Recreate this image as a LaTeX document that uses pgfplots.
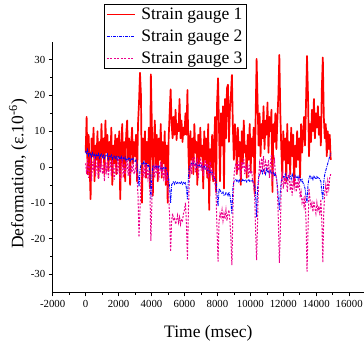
\documentclass[border=0pt]{standalone}
\usepackage{fontspec}
\setmainfont{Liberation Serif}
\usepackage{pgfplots}
\usepackage{pgfplotstable}
\pgfplotsset{compat=1.18}
\pgfplotstableread{
t r b m
0 4 4.5 1
60 14 3.5 -2
120 -2 4.8 2.5
180 9 3.2 -3
240 1 4 0.5
300 -9 3.6 2
360 8 2.8 -4
420 3 3.9 1.5
480 11 3.1 -1
540 -4 3.5 3
600 6 2.6 -2.5
660 2 3.4 0
720 10 2.9 2
780 -3 3.7 -3.5
840 7 2.5 1
900 0 3.2 -1.5
960 12 3.8 2.5
1020 3 2.7 -2
1080 8 3.3 0.5
1140 -2 2.4 -4
1200 13 3.1 1.5
1260 4 2.9 -1
1320 9 3.6 2
1380 -1 2.2 -3
1440 7 3 0
1500 2 2.7 1.5
1560 11 3.3 -2.5
1620 -5 2.1 2
1680 6 2.8 -1
1740 1 3.2 -3.5
1800 9 2.4 1
1860 -2 2.9 0
1920 8 2 -2
1980 3 3.1 2.5
2040 10 2.5 -1.5
2100 -9 2.2 -4
2160 5 2.9 0.5
2220 12 1.8 2
2280 0 2.6 -3
2340 7 2.3 1
2400 -4 2.8 -2
2460 9 1.7 0
2520 13 2.4 2
2580 2 2.1 -2.5
2640 8 2.7 1
2700 -5 1.6 -3
2760 6 2.3 0.5
2820 11 1.9 -1.5
2880 1 2.4 1.5
2940 7 1.5 -2
3000 3 1.5 -1
3060 9 2 0.5
3120 -4 0.8 -3
3180 12 -2 -8
3240 18 -5.5 -19.6
3300 26.3 -1 -12
3360 20 0.5 -4
3420 -10 1 -2
3480 8 0.8 0
3540 2 1.5 -3
3600 10 0.5 1
3660 -3 1.2 -2
3720 7 0.8 0.5
3780 1 0.2 -3
3840 11 0.6 -1
3900 -6 -1 -6
3960 25.9 -9 -20.6
4020 12 -3 -10
4080 -8 0.5 -2
4140 6 0.2 0
4200 13 -0.5 -3
4260 0 0.3 1
4320 9 -0.2 -2
4380 -4 0.5 0.5
4440 8 -0.3 -3.5
4500 2 0.2 -1
4560 12 -0.5 1.5
4620 -3 0 -2.5
4680 7 -0.8 0
4740 1 0.1 -3
4800 10 -0.5 -1
4860 -5 -0.2 -4
4920 6 -1 -1
4980 -10 -2 -5
5040 8 -3 -8
5100 15 -6 -14
5160 21.7 -10 -23.6
5220 12 -5 -15
5280 8 -4.5 -13
5340 14 -4 -15
5400 9 -4.8 -14
5460 16 -4.2 -16
5520 7.5 -4.6 -15
5580 12 -4.3 -13.5
5640 10 -4.7 -15.5
5700 19 -4.4 -14
5760 8 -4.6 -16
5820 13 -4.2 -14.5
5880 7 -4.8 -15
5940 11 -4.3 -13
6000 9 -4.6 -12
6060 15 -4.4 -10
6120 9 -6 -16
6180 21.5 -9 -26
6240 4 -3 -12
6300 -3 0 -3
6360 10 0.5 1
6420 2 1 -2
6480 8 0.2 2.5
6540 -2 1.2 0
6600 12 0.4 3
6660 4 0.8 -1.5
6720 7 0 1
6780 -5 1 2
6840 9 0.3 -3
6900 1 0.6 0.5
6960 11 -0.2 2.5
7020 3 0.5 -1
7080 6 0 1.5
7140 -6 -0.5 -2.5
7200 10 0.3 0
7260 2 -0.8 2
7320 8 -0.2 -1
7380 -3 -1 1
7440 12 -0.5 -3
7500 -12 -1.5 0
7560 5 -1 1.5
7620 0 -2 -2
7680 9 -1.5 -0.5
7740 -4 -2.5 -3
7800 6 -3 -2
7860 14 -3.5 -5
7920 -7 -4 -8
7980 18 -8 -18
8040 24.8 -11 -26.4
8100 10 -6 -15
8160 -4 -6.5 -13
8220 15 -7 -14
8280 6 -7.5 -12
8340 17 -7 -15
8400 -6 -8 -13
8460 19 -7.8 -14.5
8520 8 -7.2 -12
8580 22 -7.5 -15
8640 23 -8 -13
8700 7 -7 -12
8760 16 -8 -15
8820 20 -10 -20
8880 25.7 -13 -27.4
8940 11 -6 -12
9000 2 -4 -3
9060 12 -3.8 0
9120 8 -3.5 1
9180 -2 -4 -2
9240 11 -3.7 2
9300 3 -4.2 -1
9360 7 -3.6 0.5
9420 -5 -3.9 -3
9480 10 -4.1 1.5
9540 1 -3.5 -0.5
9600 13 -4 2.5
9660 4 -3.8 -2
9720 6 -3.6 0
9780 -3 -4.2 -1
9840 9 -3.9 1
9900 2 -3.4 -3
9960 12 -4 0.5
10020 -1 -3.7 -2
10080 8 -4.1 -1
10140 3 -3.8 -4
10200 11 -4.5 -5
10260 -7.5 -5 -8
10320 14 -8 -18
10380 30.2 -14 -26
10440 18 -6 -15
10500 6 -3 -3
10560 15 -2 1
10620 3 -1.5 -1
10680 12 -1 2.5
10740 8 -1.8 0
10800 17 -0.8 3
10860 5 -1.2 -2
10920 13 -2 1.5
10980 9 -0.5 0.5
11040 18 -1.5 -1
11100 4 -1 2
11160 14 -2.2 -3
11220 10 -0.8 1
11280 16 -1.6 3.5
11340 -7 -2 -4
11400 12 -1.2 0
11460 7 -2.5 2
11520 15 -1.8 -1.5
11580 5 -3 -3
11640 13 -5 -6
11700 20 -9 -15
11760 31.3 -12 -26.8
11820 15 -7 -18
11880 5 -4 -4
11940 -3 -3 -2
12000 10 -2.5 -6
12060 2 -3.2 -3
12120 8 -2 -5
12180 -4 -2.8 -1.5
12240 12 -3.5 -7
12300 1 -2.2 -3.5
12360 7 -3 -2
12420 -2 -2.6 -6.5
12480 11 -3.4 -4
12540 3 -2 -8
12600 9 -2.9 -3
12660 -5 -3.3 -5.5
12720 6 -2.4 -2.5
12780 0 -3.1 -7
12840 10 -2.7 -4
12900 2 -3.6 -6
12960 8 -2.5 -3
13020 -3 -3.2 -8.5
13080 12 -4 -7
13140 4 -3.5 -10
13200 9 -4.5 -9
13260 14 -5 -11
13320 6 -6 -8
13380 18 -8 -15
13440 31 -10 -29.2
13500 20 -5 -18
13560 3 -3 -6
13620 12 -2.5 -9
13680 7 -3.2 -11
13740 16 -2.8 -10
13800 10 -3.5 -12.5
13860 19 -2.6 -9.5
13920 8 -3 -11.5
13980 15 -3.4 -13
14040 11 -2.7 -10
14100 17 -3.1 -12
14160 9 -2.9 -11
14220 14 -3.5 -13.5
14280 6 -4 -9
14340 22 -7 -15
14400 30.6 -9 -26.7
14460 14 -4 -12
14520 8 -2 -7
14580 12 -1 -5
14640 3 0 -8
14700 10 1 -4
14760 5 2 -6
14820 9 3 -3
14880 2 3.8 -2
}\gauges
\begin{document}
\begin{tikzpicture}
\path[use as bounding box] (-52.7pt,-52.7pt) rectangle (311.3pt,292.3pt);
\begin{axis}[
  at={(0,0)}, anchor=south west,
  scale only axis, width=311.3pt, height=250.6pt,
  xmin=-2000, xmax=16900, ymin=-35, ymax=35,
  axis x line*=bottom, axis y line*=left,
  xtick={-2000,0,2000,4000,6000,8000,10000,12000,14000,16000},
  ytick={-30,-20,-10,0,10,20,30},
  minor x tick num=1, minor y tick num=1,
  tick align=outside, major tick length=4pt, minor tick length=2.5pt,
  tick style={black, line width=0.6pt},
  axis line style={black, line width=0.8pt},
  ticklabel style={font=\fontsize{10.8}{13}\selectfont},
  /pgf/number format/assume math mode=true,
  /pgf/number format/1000 sep={},
  scaled x ticks=false,
  xlabel={Time (msec)},
  ylabel={Deformation, (ε.10\textsuperscript{-6})},
  xlabel style={font=\fontsize{17.5}{20}\selectfont, at={(axis description cs:0.5,0)}, anchor=base, yshift=-45.4pt},
  ylabel style={font=\fontsize{17.5}{20}\selectfont, at={(axis description cs:0,0.472)}, anchor=base, yshift=29.4pt},
  legend cell align=left,
  legend image code/.code={\draw[#1, line width=0.9pt] (2pt,0pt) -- (30pt,0pt);},
  legend style={at={(axis description cs:0.1648,1.1505)}, anchor=north west,
    line width=0.8pt, font=\fontsize{17.5}{20}\selectfont,
    inner xsep=2pt, inner ysep=1.5pt, row sep=5pt,
    /tikz/every odd column/.append style={column sep=4pt}},
]
\addplot[draw=red, line width=1.7pt, line join=round] table[x=t, y=r] {\gauges};
\addlegendentry{Strain gauge 1}
\addplot[draw=blue, line width=0.9pt, dash pattern=on 3pt off 1pt on 1pt off 1pt] table[x=t, y=b] {\gauges};
\addlegendentry{Strain gauge 2}
\addplot[draw=magenta, line width=1pt, dash pattern=on 2pt off 1.5pt] table[x=t, y=m] {\gauges};
\addlegendentry{Strain gauge 3}
\end{axis}
\end{tikzpicture}
\end{document}
